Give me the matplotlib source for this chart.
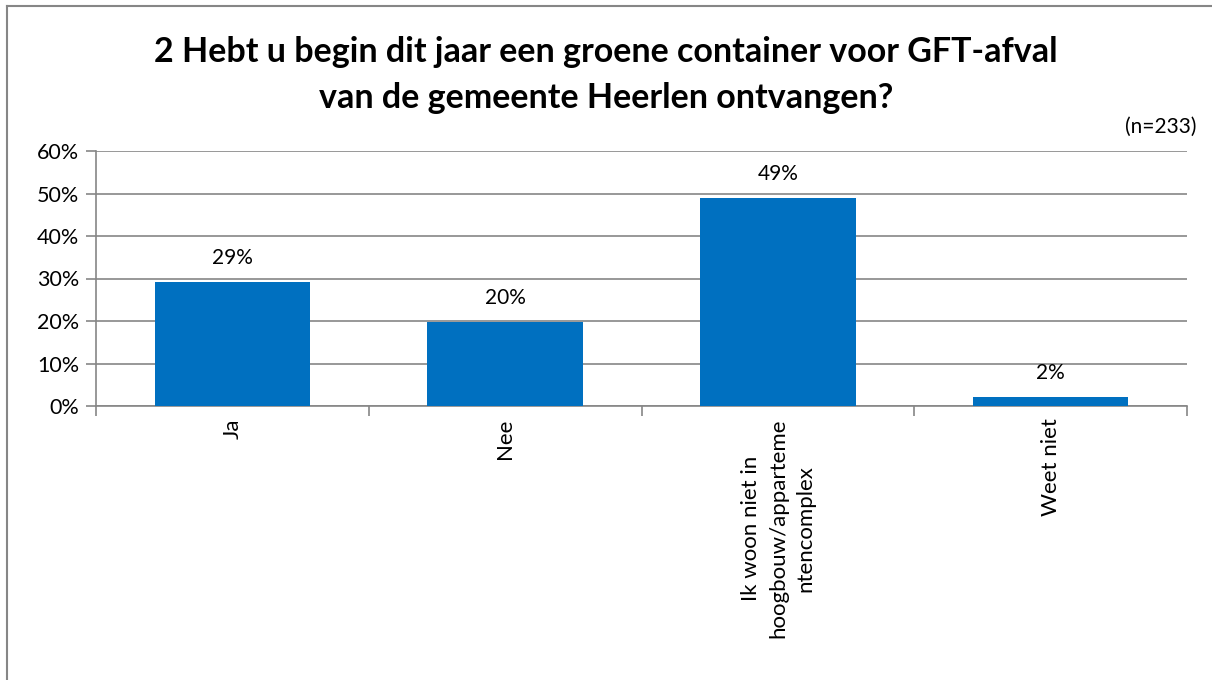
import numpy as np
import matplotlib.pyplot as plt
from matplotlib.lines import Line2D
from matplotlib.ticker import FixedLocator, PercentFormatter

plt.rcParams['font.family'] = ['Lato', 'DejaVu Sans']

# data
categories = ['Ja', 'Nee', 'Ik woon niet in\nhoogbouw/apparteme\nntencomplex', 'Weet niet']
values = [29.2, 19.7, 48.9, 2.1]
labels = ['29%', '20%', '49%', '2%']
title = '2 Hebt u begin dit jaar een groene container voor GFT-afval\nvan de gemeente Heerlen ontvangen?'

fig = plt.figure(figsize=(12.12, 6.8), dpi=100)
ax = fig.add_axes([96/1212, 1-406/680, 1091/1212, 255/680])

# outer border: only the top and left edges are in the picture
bx, by = 7/1212, 1-6/680
fig.add_artist(Line2D([bx, 1.01], [by, by], transform=fig.transFigure, color='#868686', lw=1.5))
fig.add_artist(Line2D([bx, bx], [-0.01, by], transform=fig.transFigure, color='#868686', lw=1.5))

x = np.arange(len(categories))
ax.bar(x, values, width=0.57, color='#0070C0', zorder=3)
for xi, v, lab in zip(x, values, labels):
    ax.text(xi, v + 3.3, lab, ha='center', va='bottom', fontsize=15)

ax.set_xlim(-0.5, len(categories) - 0.5)
ax.set_ylim(0, 60)
ax.set_yticks(np.arange(0, 61, 10))
ax.yaxis.set_major_formatter(PercentFormatter(decimals=0))
ax.grid(axis='y', color='#868686', lw=1.2, zorder=0)

ax.set_xticks(x)
ax.set_xticklabels(categories, rotation=90, va='top', ha='center',
                   multialignment='center', fontsize=16, linespacing=1.45)
ax.xaxis.set_minor_locator(FixedLocator(np.arange(-0.5, len(categories), 1)))
ax.tick_params(axis='x', which='major', length=0, pad=9)
ax.tick_params(axis='x', which='minor', length=7, color='#868686', width=1.2)
ax.tick_params(axis='y', length=7, color='#868686', width=1.2, labelsize=15.5, pad=5)

for s in ['top', 'right']:
    ax.spines[s].set_visible(False)
for s in ['left', 'bottom']:
    ax.spines[s].set_color('#868686')
    ax.spines[s].set_linewidth(1.2)

fig.text(0.5, 1-75/680, title, ha='center', va='center', fontsize=24.5,
         fontweight='bold', linespacing=1.5)
fig.text(1197/1212, 1-127/680, '(n=233)', ha='right', va='center', fontsize=15)

fig.savefig('out.png', dpi=100)
